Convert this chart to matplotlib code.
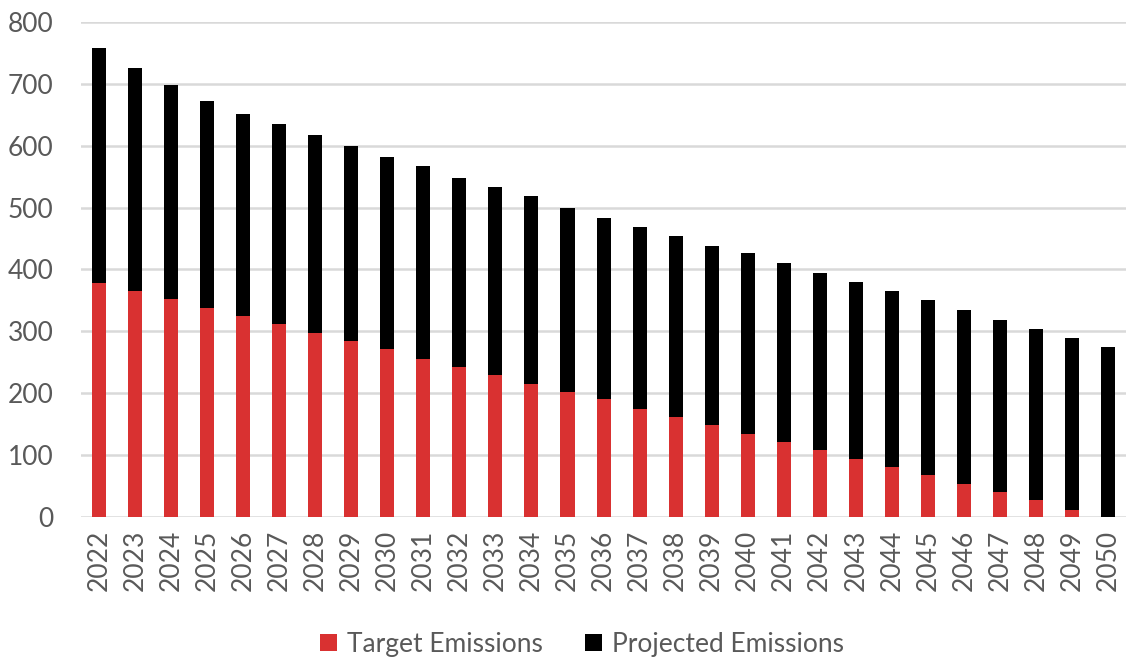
import matplotlib
matplotlib.use("Agg")

import matplotlib.pyplot as plt
import numpy as np

plt.rcParams["font.family"] = ["Lato", "DejaVu Sans"]

# ── data ─────────────────────────────────────────────────────────────────────
years = [str(y) for y in range(2022, 2051)]
projected = [758, 726, 698, 673, 652, 635, 617, 599, 581, 567, 548, 533, 518, 500,
             484, 469, 454, 438, 426, 411, 395, 380, 365, 350, 335, 319, 304, 289, 274]
target = [378, 365, 353, 337, 325, 312, 297, 284, 271, 256, 243, 230, 215, 202,
          190, 175, 162, 149, 134, 121, 109, 93, 80, 68, 53, 40, 27, 12, 0]
y_ticks = [0, 100, 200, 300, 400, 500, 600, 700, 800]

RED = "#d93131"
GREY_TXT = "#595959"
GRID = "#d9d9d9"

fig = plt.figure(figsize=(11.26, 6.6), dpi=100)
ax = fig.add_axes([0.072, 0.2167, 0.928, 0.75])

x = np.arange(len(years))
width = 0.39
# black (projected) drawn behind, red (target) in front
h_proj = ax.bar(x, projected, width=width, color="black", zorder=2,
                label="Projected Emissions")
h_tgt = ax.bar(x, target, width=width, color=RED, zorder=3,
               label="Target Emissions")

ax.set_xlim(-0.5, len(years) - 0.5)
ax.set_ylim(0, 800)
ax.set_yticks(y_ticks)
ax.set_xticks(x)
ax.set_xticklabels(years, rotation=90)
ax.grid(axis="y", color=GRID, linewidth=1.8, zorder=0)
ax.set_axisbelow(True)
for s in ax.spines.values():
    s.set_visible(False)
ax.tick_params(axis="y", length=0, pad=20, labelsize=19, labelcolor=GREY_TXT)
ax.tick_params(axis="x", length=0, pad=9, labelsize=19, labelcolor=GREY_TXT)

leg = fig.legend([h_tgt, h_proj], ["Target Emissions", "Projected Emissions"],
                 loc="center", bbox_to_anchor=(0.517, 0.024), ncol=2,
                 frameon=False, fontsize=19, handlelength=0.62, handleheight=0.62,
                 handletextpad=0.4, columnspacing=1.6)
for t in leg.get_texts():
    t.set_color(GREY_TXT)

fig.savefig("out.png", dpi=100)
